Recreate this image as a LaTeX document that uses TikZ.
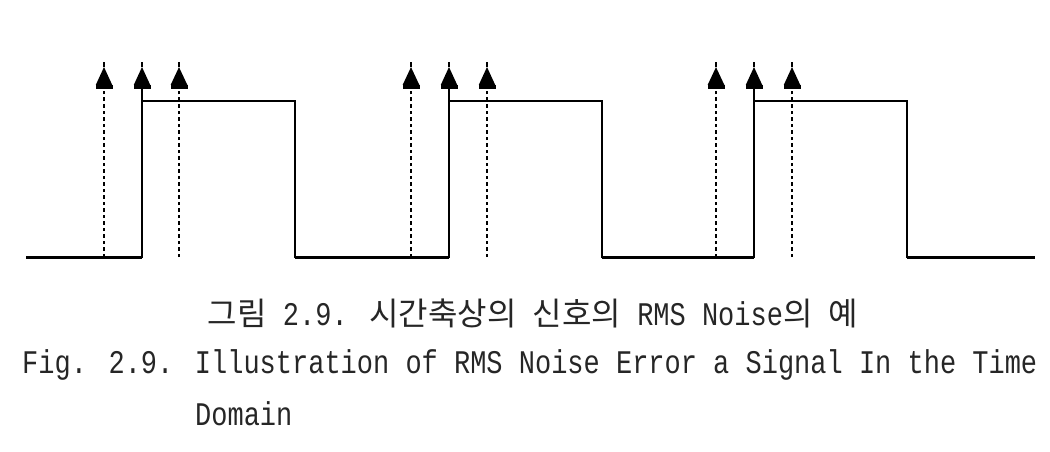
\documentclass[tikz,border=0pt]{standalone}
\usepackage{fontspec}
\usetikzlibrary{arrows.meta}
\newfontfamily\capmono[FakeStretch=0.818]{Liberation Mono}
\newfontfamily\kr{Noto Sans CJK KR}
\newcommand{\hg}[1]{{\kr\fontsize{32}{32}\selectfont #1}}
\tikzset{
  sig/.style={line width=1.8pt, line join=miter},
  low/.style={line width=3pt},
  dotline/.style={line width=2.6pt, dash pattern=on 3.5pt off 3pt},
  thindot/.style={line width=1.8pt, dash pattern=on 3.5pt off 3pt},
  tiparrow/.style={-{Rectangle[width=17pt,length=4pt,sep=0pt]Triangle[width=16pt,length=18pt]}},
  stem/.style={line width=1.3pt},
  captext/.style={inner sep=0pt, font=\capmono\fontsize{33}{33}\selectfont, text=black!85}
}
\begin{document}
\begin{tikzpicture}[x=1pt,y=-1pt]
\useasboundingbox (0,0) rectangle (1050,452);
% signal waveform
\draw[sig] (26,257) -- (142,257) -- (142,101) -- (295,101) -- (295,257)
  -- (449,257) -- (449,101) -- (602,101) -- (602,257)
  -- (754,257) -- (754,101) -- (907,101) -- (907,257) -- (1035,257);
\foreach \a/\b in {26/142,295/449,602/754,907/1035}
  \draw[low] (\a,257) -- (\b,257);
% arrow coordinates
\foreach \n/\x in {a1/104,b1/142,c1/179,a2/411,b2/449,c2/487,a3/716,b3/754,c3/792}{
  \coordinate (\n-bot) at (\x,257);
  \coordinate (\n-top) at (\x,101);
  \coordinate (\n-tip) at (\x,67);
  \coordinate (\n-end) at (\x,62);
}
% solid rising-edge arrows
\foreach \n in {b1,b2,b3}{
  \draw[sig,tiparrow] (\n-top) -- (\n-tip);
  \draw[stem] (\n-tip) -- (\n-end);
}
% dotted arrows
\foreach \n in {a1,c2,c3}{
  \draw[thindot,tiparrow] (\n-bot) -- (\n-tip);
  \draw[stem] (\n-tip) -- (\n-end);
}
\foreach \n in {c1,a2,a3}{
  \draw[dotline,tiparrow] (\n-bot) -- (\n-tip);
  \draw[stem] (\n-tip) -- (\n-end);
}
% captions
\node[captext, anchor=base] (krcap) at (533,325)
  {\hg{그림} 2.9. \hg{시간축상의} \hg{신호의} RMS Noise\hg{의} \hg{예}};
\node[captext, anchor=base west] (encap) at (22,373)
  {Fig. 2.9. Illustration of RMS Noise Error a Signal In the Time};
\node[captext, anchor=base west] (encap2) at (195,425) {Domain};
\end{tikzpicture}
\end{document}
